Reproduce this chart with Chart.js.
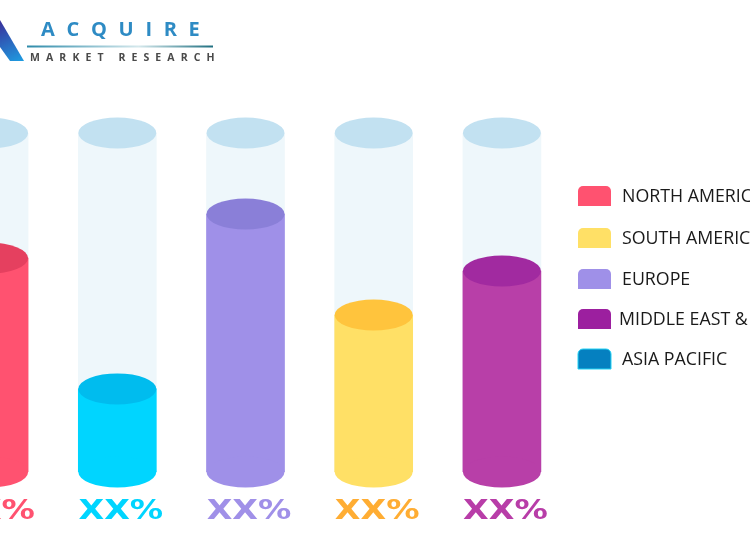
<!DOCTYPE html>
<html>
<head>
<meta charset="utf-8">
<title>Acquire Market Research</title>
<script src="https://cdn.jsdelivr.net/npm/chart.js@4"></script>
<style>
  html, body { margin: 0; padding: 0; background: #fff; overflow: hidden; }
  #wrap { position: absolute; left: -75px; top: 0; width: 900px; height: 536px; }
</style>
</head>
<body>
<div id="wrap"><canvas id="regionChart"></canvas></div>
<script>
// bar values, read from the cylinder heights
const categories = ["North America", "Asia Pacific", "Europe", "South America", "Middle East & Africa"];
const shareValues = [63.1, 24.5, 76.1, 46.3, 59.3];
const trackValues = [100, 100, 100, 100, 100];
const tickLabels = ["XX%", "XX%", "XX%", "XX%", "XX%"];

const barColors = ["#FF5270", "#00D5FF", "#9F90E8", "#FFE066", "#B83FA8"];
const capColors = ["#E5405F", "#00BCEE", "#8A7FD8", "#FFC43D", "#A12AA0"];
const labelColors = ["#FF5270", "#00D5FF", "#A090E8", "#FFAD33", "#B83DA8"];

const legendLabels = ["NORTH AMERICA", "SOUTH AMERICA", "EUROPE", "MIDDLE EAST & AFRICA", "ASIA PACIFIC"];
const legendColors = ["#FF5270", "#FFE066", "#9F90E8", "#9C1F9F", "#0580C0"];

const TRACK_COLOR = "#EEF7FB";
const TRACK_CAP = "#C2E1F1";
const CANVAS_SHIFT = 75; // canvas starts off screen, the first cylinder is cut

function ellipse(ctx, x, y, rx, ry, color) {
  ctx.fillStyle = color;
  ctx.beginPath();
  ctx.ellipse(x, y, rx, ry, 0, 0, Math.PI * 2);
  ctx.fill();
}

// bottoms and tops of the cylinders
const cylinderCaps = {
  id: "cylinderCaps",
  afterDatasetsDraw(chart) {
    const ctx = chart.ctx;
    chart.getDatasetMeta(1).data.forEach((bar) => {
      ellipse(ctx, bar.x, bar.y, bar.width / 2, 15.5, TRACK_CAP);
    });
    chart.getDatasetMeta(0).data.forEach((bar, i) => {
      ellipse(ctx, bar.x, bar.base, bar.width / 2, 15.5, barColors[i]);
      ellipse(ctx, bar.x, bar.y, bar.width / 2, 15.5, capColors[i]);
    });
  },
};

// the XX% labels are stretched sideways, the axis ticks can't do that
const wideTicks = {
  id: "wideTicks",
  afterDraw(chart) {
    const ctx = chart.ctx;
    const xScale = chart.scales.x;
    ctx.save();
    ctx.font = 'bold 26px "DejaVu Sans"';
    ctx.textAlign = "center";
    ctx.textBaseline = "middle";
    tickLabels.forEach((label, i) => {
      ctx.save();
      ctx.translate(xScale.getPixelForTick(i) + 3.5, 512);
      ctx.scale(1.28, 1);
      ctx.fillStyle = labelColors[i];
      ctx.fillText(label, 0, 0);
      ctx.restore();
    });
    ctx.restore();
  },
};

// legend on the right and the logo, drawn in window coordinates
const pageParts = {
  id: "pageParts",
  afterDraw(chart) {
    const ctx = chart.ctx;
    ctx.save();
    ctx.translate(CANVAS_SHIFT, 0);

    // legend
    const rows = [196, 238, 279, 319, 359];
    const textX = [622, 622, 622, 619, 622];
    ctx.font = '17.8px "Open Sans", "Noto Sans", sans-serif';
    ctx.textBaseline = "middle";
    legendLabels.forEach((label, i) => {
      ctx.fillStyle = legendColors[i];
      ctx.beginPath();
      ctx.roundRect(578, rows[i] - 10, 33, 20, [5, 5, 0, 0]);
      ctx.fill();
      if (i === 4) {
        ctx.strokeStyle = "#22D3F5";
        ctx.lineWidth = 1;
        ctx.stroke();
      }
      ctx.fillStyle = "#1a1a1a";
      ctx.fillText(label, textX[i], rows[i] + 0.5);
    });

    // logo mark
    const mark = ctx.createLinearGradient(0, 20, 20, 62);
    mark.addColorStop(0, "#3A2E9A");
    mark.addColorStop(1, "#1E9BE0");
    ctx.fillStyle = mark;
    ctx.beginPath();
    ctx.moveTo(0, 20);
    ctx.lineTo(24, 61);
    ctx.lineTo(10, 61);
    ctx.lineTo(0, 47);
    ctx.closePath();
    ctx.fill();

    // logo text
    ctx.textBaseline = "alphabetic";
    ctx.fillStyle = "#2E8BC4";
    ctx.font = 'bold 20px "Open Sans", sans-serif';
    ctx.letterSpacing = "11.7px";
    ctx.fillText("ACQUIRE", 41, 36);
    ctx.fillStyle = "#4A4A4A";
    ctx.font = 'bold 10.5px "Open Sans", sans-serif';
    ctx.letterSpacing = "6.1px";
    ctx.fillText("MARKET RESEARCH", 30, 61);
    ctx.letterSpacing = "0px";

    const rule = ctx.createLinearGradient(27, 0, 213, 0);
    rule.addColorStop(0, "#2E8BAA");
    rule.addColorStop(0.6, "#D5E8EC");
    rule.addColorStop(1, "#1F6F80");
    ctx.fillStyle = rule;
    ctx.fillRect(27, 45.5, 186, 2);

    ctx.restore();
  },
};

new Chart(document.getElementById("regionChart"), {
  type: "bar",
  data: {
    labels: categories,
    datasets: [
      { data: shareValues, backgroundColor: barColors, barThickness: 78, order: 1 },
      { data: trackValues, backgroundColor: TRACK_COLOR, barThickness: 78, order: 2 },
    ],
  },
  plugins: [cylinderCaps, wideTicks, pageParts],
  options: {
    responsive: true,
    maintainAspectRatio: false,
    animation: false,
    layout: { padding: { top: 133, right: 259, left: 0, bottom: 0 } },
    plugins: { legend: { display: false }, tooltip: { enabled: false } },
    scales: {
      x: {
        grid: { display: false },
        border: { display: false },
        afterFit(scale) { scale.height = 64; },
        ticks: { display: false },
      },
      y: {
        display: false,
        min: 0,
        max: 100,
      },
    },
    datasets: { bar: { grouped: false } },
  },
});
</script>
</body>
</html>
